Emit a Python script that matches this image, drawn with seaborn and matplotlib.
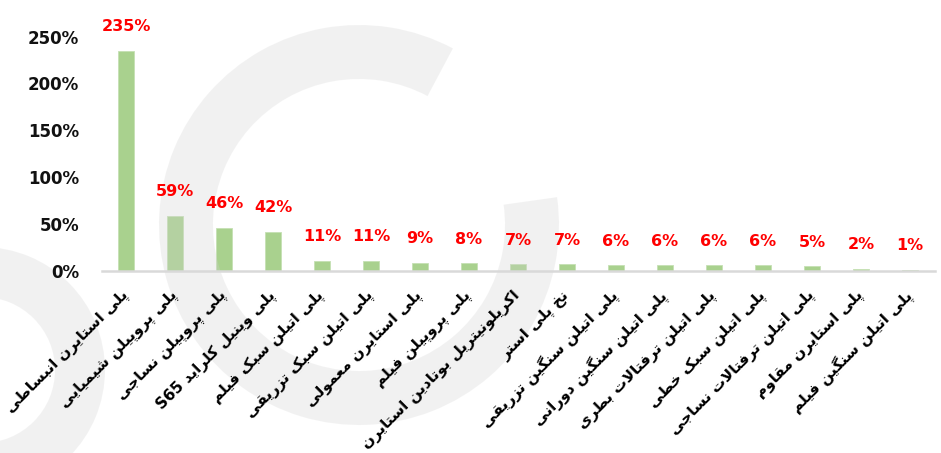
import matplotlib
matplotlib.use("Agg")
import matplotlib.pyplot as plt
import matplotlib.transforms as mtransforms
from matplotlib.patches import Wedge
from matplotlib.ticker import FuncFormatter
import seaborn as sns

# ---------------- data ----------------
categories = [
    "پلی استایرن انبساطی",
    "پلی پروپیلن شیمیایی",
    "پلی پروپیلن نساجی",
    "پلی وینیل کلراید S65",
    "پلی اتیلن سبک فیلم",
    "پلی اتیلن سبک تزریقی",
    "پلی استایرن معمولی",
    "پلی پروپیلن فیلم",
    "اکریلونیتریل بوتادین استایرن",
    "نخ پلی استر",
    "پلی اتیلن سنگین تزریقی",
    "پلی اتیلن سنگین دورانی",
    "پلی اتیلن ترفتالات بطری",
    "پلی اتیلن سبک خطی",
    "پلی اتیلن ترفتالات نساجی",
    "پلی استایرن مقاوم",
    "پلی اتیلن سنگین فیلم",
]
values = [235, 59, 46, 42, 11, 11, 9, 8, 7, 7, 6, 6, 6, 6, 5, 2, 1]
y_ticks = [0, 50, 100, 150, 200, 250]

# ------------- minimal Persian shaping (matplotlib has no bidi) -------------
FORMS = {
    "ا": ("\uFE8D", "\uFE8E"), "آ": ("\uFE81", "\uFE82"),
    "د": ("\uFEA9", "\uFEAA"), "ذ": ("\uFEAB", "\uFEAC"),
    "ر": ("\uFEAD", "\uFEAE"), "ز": ("\uFEAF", "\uFEB0"),
    "ژ": ("\uFB8A", "\uFB8B"), "و": ("\uFEED", "\uFEEE"),
    "ب": ("\uFE8F", "\uFE90", "\uFE91", "\uFE92"),
    "پ": ("\uFB56", "\uFB57", "\uFB58", "\uFB59"),
    "ت": ("\uFE95", "\uFE96", "\uFE97", "\uFE98"),
    "ث": ("\uFE99", "\uFE9A", "\uFE9B", "\uFE9C"),
    "ج": ("\uFE9D", "\uFE9E", "\uFE9F", "\uFEA0"),
    "چ": ("\uFB7A", "\uFB7B", "\uFB7C", "\uFB7D"),
    "ح": ("\uFEA1", "\uFEA2", "\uFEA3", "\uFEA4"),
    "خ": ("\uFEA5", "\uFEA6", "\uFEA7", "\uFEA8"),
    "س": ("\uFEB1", "\uFEB2", "\uFEB3", "\uFEB4"),
    "ش": ("\uFEB5", "\uFEB6", "\uFEB7", "\uFEB8"),
    "ص": ("\uFEB9", "\uFEBA", "\uFEBB", "\uFEBC"),
    "ض": ("\uFEBD", "\uFEBE", "\uFEBF", "\uFEC0"),
    "ط": ("\uFEC1", "\uFEC2", "\uFEC3", "\uFEC4"),
    "ظ": ("\uFEC5", "\uFEC6", "\uFEC7", "\uFEC8"),
    "ع": ("\uFEC9", "\uFECA", "\uFECB", "\uFECC"),
    "غ": ("\uFECD", "\uFECE", "\uFECF", "\uFED0"),
    "ف": ("\uFED1", "\uFED2", "\uFED3", "\uFED4"),
    "ق": ("\uFED5", "\uFED6", "\uFED7", "\uFED8"),
    "ک": ("\uFB8E", "\uFB8F", "\uFB90", "\uFB91"),
    "گ": ("\uFB92", "\uFB93", "\uFB94", "\uFB95"),
    "ل": ("\uFEDD", "\uFEDE", "\uFEDF", "\uFEE0"),
    "م": ("\uFEE1", "\uFEE2", "\uFEE3", "\uFEE4"),
    "ن": ("\uFEE5", "\uFEE6", "\uFEE7", "\uFEE8"),
    "ه": ("\uFEE9", "\uFEEA", "\uFEEB", "\uFEEC"),
    "ی": ("\uFBFC", "\uFBFD", "\uFBFE", "\uFBFF"),
}


def dual(c):
    return c in FORMS and len(FORMS[c]) == 4


def shape_word(w):
    out = []
    i, n = 0, len(w)
    while i < n:
        c = w[i]
        prev_j = i > 0 and dual(w[i - 1])
        if c == "ل" and i + 1 < n and w[i + 1] == "ا":
            out.append("\uFEFC" if prev_j else "\uFEFB")
            i += 2
            continue
        if c not in FORMS:
            out.append(c)
            i += 1
            continue
        next_j = dual(c) and i + 1 < n and w[i + 1] in FORMS
        f = FORMS[c]
        if prev_j and next_j:
            out.append(f[3])
        elif prev_j:
            out.append(f[1])
        elif next_j:
            out.append(f[2])
        else:
            out.append(f[0])
        i += 1
    return "".join(reversed(out))


def visual(s):
    toks = s.split()
    res = []
    for t in reversed(toks):
        if any(ch in FORMS for ch in t):
            res.append(shape_word(t))
        else:
            res.append(t)
    return " ".join(res)


display_labels = [visual(c) for c in categories]

# ---------------- figure ----------------
sns.set_style("white")
plt.rcParams["font.family"] = ["DejaVu Sans"]

W, H = 941, 453
fig = plt.figure(figsize=(W / 100, H / 100), dpi=100)
ax = fig.add_axes([101.5 / W, (H - 271) / H, 833 / W, 234.5 / H])

sns.barplot(x=display_labels, y=values, color="#A9D18E", saturation=1,
            width=0.33, ax=ax, edgecolor="#C5E0B4", linewidth=0.6)

ax.set_xlim(-0.5, len(categories) - 0.5)
ax.set_ylim(0, 250)
ax.set_yticks(y_ticks)
ax.yaxis.set_major_formatter(FuncFormatter(lambda v, p: f"{v:.0f}%"))
for sp in ["left", "right", "top"]:
    ax.spines[sp].set_visible(False)
ax.spines["bottom"].set_color("#D9D9D9")
ax.spines["bottom"].set_linewidth(1.8)
ax.tick_params(axis="both", length=0)
ax.tick_params(axis="y", pad=16)
ax.set_axisbelow(False)
ax.set_xlabel("")
ax.set_ylabel("")

for lab in ax.get_yticklabels():
    lab.set_fontfamily(["DejaVu Sans"])
    lab.set_fontweight("bold")
    lab.set_fontsize(12)
    lab.set_color("#111111")

ax.set_xticks(range(len(categories)))
ax.set_xticklabels(display_labels, rotation=45, ha="right", va="center",
                   rotation_mode="anchor", fontsize=11, fontweight="bold",
                   color="black")
ax.tick_params(axis="x", pad=16)

for i, v in enumerate(values):
    ax.annotate(f"{v}%", xy=(i, v), xytext=(0, 17.5), textcoords="offset points",
                ha="center", va="center", color="#FF0000", fontsize=11.5,
                fontweight="bold", family=["DejaVu Sans"],
                annotation_clip=False, zorder=4)

# --------- light watermark rings (pixel coordinates) ---------
ident = mtransforms.IdentityTransform()
ring1 = Wedge((359, H - 225), 200, 62, 368, width=54, transform=ident,
              facecolor="#D2D2D2", alpha=0.29, edgecolor="none", zorder=1.5,
              clip_on=False)
ring2 = Wedge((-18, H - 370), 123, 0, 360, width=50, transform=ident,
              facecolor="#D2D2D2", alpha=0.29, edgecolor="none", zorder=1.5,
              clip_on=False)
ax.add_artist(ring1)
ax.add_artist(ring2)

fig.savefig("out.png", dpi=100)
